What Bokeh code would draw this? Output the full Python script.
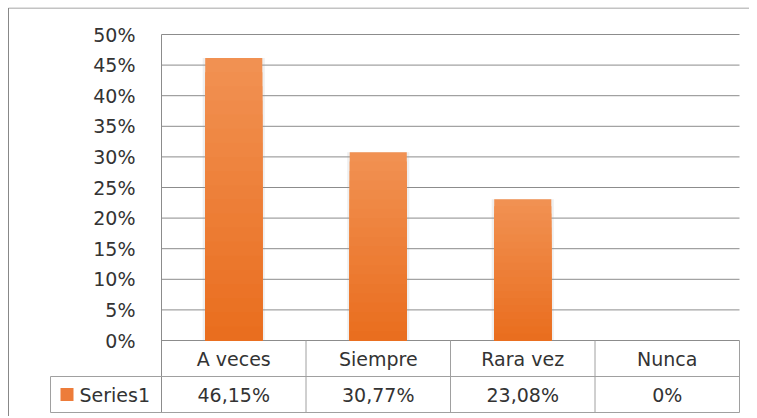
from bokeh.plotting import figure
from bokeh.models import Range1d
from bokeh.core.properties import value
from bokeh.embed import file_html
from bokeh.resources import INLINE

# ---- data ----
categories = ["A veces", "Siempre", "Rara vez", "Nunca"]
values = [46.15, 30.77, 23.08, 0]          # percent
y_ticks = [0, 5, 10, 15, 20, 25, 30, 35, 40, 45, 50]
series_name = "Series1"

def fmt(v):
    if float(v).is_integer():
        return f"{int(v)}%"
    return f"{v:.2f}".replace(".", ",") + "%"

value_labels = [fmt(v) for v in values]
tick_labels = [f"{t}%" for t in y_ticks]

FONT = "DejaVu Sans"
FS = "19px"
TXT = "#333333"
GRID = "#8c8c8c"
TABLE = "#a0a0a0"
BAR = "#ed7c3a"
BAR_TOP = (241, 145, 82)       # lighter shade at the top of each bar
BAR_BOTTOM = (233, 108, 28)    # darker shade at the base of each bar

n = len(categories)
PXX = 144.5                    # pixels per category column
PXY = 6.12                     # pixels per percent point
ROW = 36 / PXY                 # height of one data-table row, in percent units
xs = [i + 0.5 for i in range(n)]
ymax = y_ticks[-1]
x_end = n + 10 / PXX

p = figure(width=749, height=416, output_backend="svg", toolbar_location=None,
           x_range=Range1d(-154 / PXX, x_end),
           y_range=Range1d(-76 / PXY, 333 / PXY),
           min_border_left=7, min_border_right=0, min_border_top=7, min_border_bottom=0)
p.outline_line_color = None
p.background_fill_color = "white"
p.border_fill_color = "white"
p.axis.visible = False
p.grid.visible = False

# outer chart border (left and top edges)
bx = -153 / PXX
by = 332.5 / PXY
p.segment(x0=[bx, bx], y0=[-76 / PXY, by], x1=[bx, x_end], y1=[by, by],
          line_color="#888888", line_width=1)

# horizontal gridlines and value-axis labels
p.segment(x0=[0] * len(y_ticks), y0=y_ticks, x1=[n] * len(y_ticks), y1=y_ticks,
          line_color=GRID, line_width=1)
p.text(x=[-26 / PXX] * len(y_ticks), y=y_ticks, text=tick_labels, text_align="right",
       text_baseline="middle", text_font=value(FONT), text_font_size=FS, text_color=TXT)

# soft shadow
p.vbar(x=xs, top=values, width=0.43, bottom=0, fill_color="#999999",
       fill_alpha=0.16, line_color=None)
# bars with a vertical shading: nested bars, each shorter one a little darker
STEPS = 20
for k in range(STEPS):
    f = (STEPS - k) / STEPS
    c = tuple(round(b + (t - b) * f) for t, b in zip(BAR_TOP, BAR_BOTTOM))
    p.vbar(x=xs, top=[v * f for v in values], width=0.395, bottom=0,
           fill_color="#%02x%02x%02x" % c, line_color=None)

# ---- data table ----
y_mid, y_bot = -ROW, -2 * ROW
cell_left = -111 / PXX
p.segment(x0=[0], y0=[y_bot], x1=[0], y1=[ymax], line_color=GRID, line_width=1)
p.segment(x0=list(range(1, n + 1)), y0=[y_bot] * n, x1=list(range(1, n + 1)), y1=[0] * n,
          line_color=TABLE, line_width=1)
p.segment(x0=[cell_left, cell_left], y0=[y_mid, y_bot], x1=[n, n], y1=[y_mid, y_bot],
          line_color=TABLE, line_width=1)
p.segment(x0=[cell_left], y0=[y_bot], x1=[cell_left], y1=[y_mid], line_color=TABLE, line_width=1)

p.text(x=xs, y=[-0.5 * ROW] * n, text=categories, text_align="center", text_baseline="middle",
       text_font=value(FONT), text_font_size=FS, text_color=TXT)
p.text(x=xs, y=[-1.5 * ROW] * n, text=value_labels, text_align="center", text_baseline="middle",
       text_font=value(FONT), text_font_size=FS, text_color=TXT)
p.scatter(x=[cell_left + 16.5 / PXX], y=[-1.5 * ROW], marker="square", size=13,
          fill_color=BAR, line_color=None)
p.text(x=[cell_left + 29 / PXX], y=[-1.5 * ROW], text=[series_name], text_align="left",
       text_baseline="middle", text_font=value(FONT), text_font_size=FS, text_color=TXT)

open("out.html", "w").write(file_html(p, INLINE))
